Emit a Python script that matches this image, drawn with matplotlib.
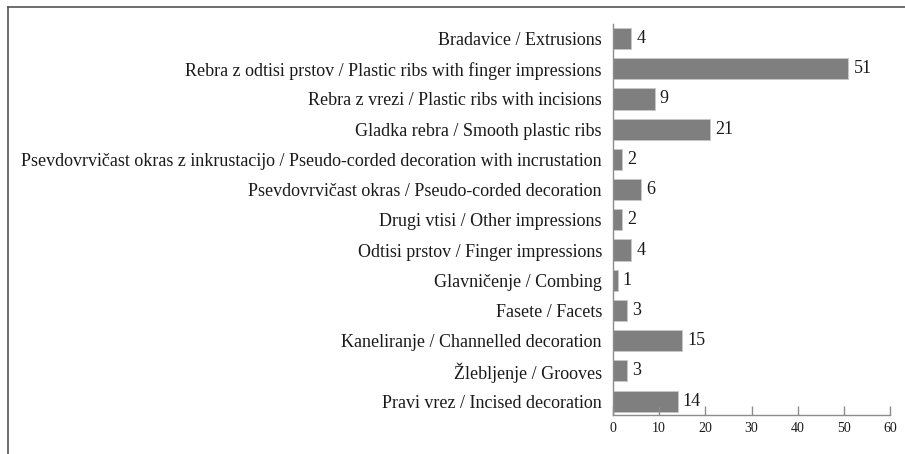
import matplotlib
matplotlib.use("Agg")
import matplotlib.pyplot as plt
from matplotlib.lines import Line2D

categories = [
    "Bradavice / Extrusions",
    "Rebra z odtisi prstov / Plastic ribs with finger impressions",
    "Rebra z vrezi / Plastic ribs with incisions",
    "Gladka rebra / Smooth plastic ribs",
    "Psevdovrvičast okras z inkrustacijo / Pseudo-corded decoration with incrustation",
    "Psevdovrvičast okras / Pseudo-corded decoration",
    "Drugi vtisi / Other impressions",
    "Odtisi prstov / Finger impressions",
    "Glavničenje / Combing",
    "Fasete / Facets",
    "Kaneliranje / Channelled decoration",
    "Žlebljenje / Grooves",
    "Pravi vrez / Incised decoration",
]
values = [4, 51, 9, 21, 2, 6, 2, 4, 1, 3, 15, 3, 14]
xticks = [0, 10, 20, 30, 40, 50, 60]

plt.rcParams['font.family'] = ['Liberation Serif', 'DejaVu Serif']

fig = plt.figure(figsize=(9.05, 4.54), dpi=100)
ax = fig.add_axes([613/905, 1 - 415/454, (890 - 613)/905, (415 - 24)/454])

n = len(categories)
ypos = list(range(n - 1, -1, -1))
ax.barh(ypos, values, height=0.7, color='#7f7f7f', edgecolor='#c8c8c8', linewidth=0.6)
for y, v in zip(ypos, values):
    ax.text(v + 1.1, y, str(v), va='center', ha='left', fontsize=13, color='#1a1a1a')

ax.set_yticks(ypos)
ax.set_yticklabels(categories, fontsize=13, color='#1a1a1a')
ax.tick_params(axis='y', length=0, pad=8)
ax.set_xlim(0, 60)
ax.set_ylim(-0.46, n - 1 + 0.48)
ax.set_xticks(xticks)
ax.set_xticklabels([str(t) for t in xticks], fontsize=10, color='#1a1a1a')
ax.tick_params(axis='x', direction='in', length=6.5, color='#8c8c8c', width=1, pad=5)

for s in ['top', 'right']:
    ax.spines[s].set_visible(False)
for s in ['left', 'bottom']:
    ax.spines[s].set_color('#8c8c8c')
    ax.spines[s].set_linewidth(1)

# figure frame (top and left edges)
fig.add_artist(Line2D([8/905, 1], [1 - 7/454, 1 - 7/454], transform=fig.transFigure, color='#555555', lw=1.2))
fig.add_artist(Line2D([8/905, 8/905], [0, 1 - 7/454], transform=fig.transFigure, color='#555555', lw=1.2))

fig.savefig('out.png', dpi=100)
